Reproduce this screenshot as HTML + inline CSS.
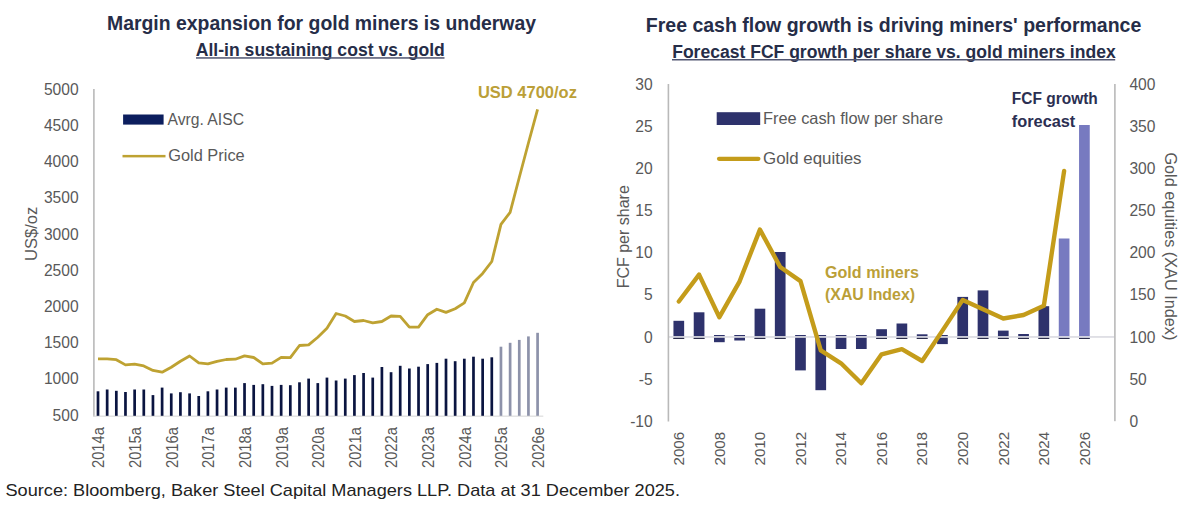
<!DOCTYPE html>
<html><head><meta charset="utf-8"><title>Gold miners charts</title>
<style>
html,body{margin:0;padding:0;background:#fff;}
body{width:1200px;height:507px;overflow:hidden;}
svg{display:block;font-family:'Liberation Sans', Arial, sans-serif;}
</style></head><body>
<svg width="1200" height="507" viewBox="0 0 1200 507">
<rect width="1200" height="507" fill="#fff"/>
<text x="107.0" y="29.7" font-size="20.4" fill="#262d48" font-weight="bold" textLength="429" lengthAdjust="spacingAndGlyphs">Margin expansion for gold miners is underway</text>
<text x="195.8" y="55.8" font-size="18.3" fill="#262d48" font-weight="bold" textLength="249" lengthAdjust="spacingAndGlyphs">All-in sustaining cost vs. gold</text>
<rect x="196.0" y="57.2" width="248.5" height="1.5" fill="#505570"/>
<text x="645.8" y="31.7" font-size="20.6" fill="#262d48" font-weight="bold" textLength="495.5" lengthAdjust="spacingAndGlyphs">Free cash flow growth is driving miners&#39; performance</text>
<text x="672.2" y="57.8" font-size="18.3" fill="#262d48" font-weight="bold" textLength="443.5" lengthAdjust="spacingAndGlyphs">Forecast FCF growth per share vs. gold miners index</text>
<rect x="672.0" y="59.0" width="443.2" height="1.5" fill="#505570"/>
<text x="78.6" y="94.8" font-size="15.6" fill="#595959" text-anchor="end">5000</text>
<text x="78.6" y="131.0" font-size="15.6" fill="#595959" text-anchor="end">4500</text>
<text x="78.6" y="167.2" font-size="15.6" fill="#595959" text-anchor="end">4000</text>
<text x="78.6" y="203.4" font-size="15.6" fill="#595959" text-anchor="end">3500</text>
<text x="78.6" y="239.6" font-size="15.6" fill="#595959" text-anchor="end">3000</text>
<text x="78.6" y="275.8" font-size="15.6" fill="#595959" text-anchor="end">2500</text>
<text x="78.6" y="312.0" font-size="15.6" fill="#595959" text-anchor="end">2000</text>
<text x="78.6" y="348.2" font-size="15.6" fill="#595959" text-anchor="end">1500</text>
<text x="78.6" y="384.4" font-size="15.6" fill="#595959" text-anchor="end">1000</text>
<text x="78.6" y="420.6" font-size="15.6" fill="#595959" text-anchor="end">500</text>
<text transform="translate(36.8,233.9) rotate(-90)" font-size="16" fill="#595959" text-anchor="middle" textLength="54.3" lengthAdjust="spacingAndGlyphs">US$/oz</text>
<rect x="93.1" y="89" width="1.6" height="327.5" fill="#b9b9b9"/>
<rect x="93.3" y="415.6" width="450" height="1.1" fill="#d9d9d9"/>
<rect x="96.65" y="391.3" width="2.7" height="24.50" fill="#0a1440"/>
<rect x="105.81" y="389.5" width="2.7" height="26.30" fill="#0a1440"/>
<rect x="114.97" y="390.8" width="2.7" height="25.00" fill="#0a1440"/>
<rect x="124.12" y="392.0" width="2.7" height="23.80" fill="#0a1440"/>
<rect x="133.28" y="389.5" width="2.7" height="26.30" fill="#0a1440"/>
<rect x="142.44" y="389.5" width="2.7" height="26.30" fill="#0a1440"/>
<rect x="151.60" y="395.1" width="2.7" height="20.70" fill="#0a1440"/>
<rect x="160.76" y="387.6" width="2.7" height="28.20" fill="#0a1440"/>
<rect x="169.91" y="393.4" width="2.7" height="22.40" fill="#0a1440"/>
<rect x="179.07" y="392.2" width="2.7" height="23.60" fill="#0a1440"/>
<rect x="188.23" y="393.4" width="2.7" height="22.40" fill="#0a1440"/>
<rect x="197.39" y="396.0" width="2.7" height="19.80" fill="#0a1440"/>
<rect x="206.55" y="391.3" width="2.7" height="24.50" fill="#0a1440"/>
<rect x="215.70" y="389.5" width="2.7" height="26.30" fill="#0a1440"/>
<rect x="224.86" y="387.6" width="2.7" height="28.20" fill="#0a1440"/>
<rect x="234.02" y="387.6" width="2.7" height="28.20" fill="#0a1440"/>
<rect x="243.18" y="383.1" width="2.7" height="32.70" fill="#0a1440"/>
<rect x="252.34" y="384.9" width="2.7" height="30.90" fill="#0a1440"/>
<rect x="261.49" y="384.2" width="2.7" height="31.60" fill="#0a1440"/>
<rect x="270.65" y="385.9" width="2.7" height="29.90" fill="#0a1440"/>
<rect x="279.81" y="384.9" width="2.7" height="30.90" fill="#0a1440"/>
<rect x="288.97" y="385.2" width="2.7" height="30.60" fill="#0a1440"/>
<rect x="298.13" y="382.3" width="2.7" height="33.50" fill="#0a1440"/>
<rect x="307.28" y="378.6" width="2.7" height="37.20" fill="#0a1440"/>
<rect x="316.44" y="383.1" width="2.7" height="32.70" fill="#0a1440"/>
<rect x="325.60" y="377.6" width="2.7" height="38.20" fill="#0a1440"/>
<rect x="334.76" y="380.5" width="2.7" height="35.30" fill="#0a1440"/>
<rect x="343.92" y="378.6" width="2.7" height="37.20" fill="#0a1440"/>
<rect x="353.07" y="375.1" width="2.7" height="40.70" fill="#0a1440"/>
<rect x="362.23" y="373.0" width="2.7" height="42.80" fill="#0a1440"/>
<rect x="371.39" y="377.6" width="2.7" height="38.20" fill="#0a1440"/>
<rect x="380.55" y="367.0" width="2.7" height="48.80" fill="#0a1440"/>
<rect x="389.71" y="372.2" width="2.7" height="43.60" fill="#0a1440"/>
<rect x="398.86" y="365.8" width="2.7" height="50.00" fill="#0a1440"/>
<rect x="408.02" y="368.5" width="2.7" height="47.30" fill="#0a1440"/>
<rect x="417.18" y="366.7" width="2.7" height="49.10" fill="#0a1440"/>
<rect x="426.34" y="364.1" width="2.7" height="51.70" fill="#0a1440"/>
<rect x="435.50" y="362.9" width="2.7" height="52.90" fill="#0a1440"/>
<rect x="444.65" y="358.7" width="2.7" height="57.10" fill="#0a1440"/>
<rect x="453.81" y="361.2" width="2.7" height="54.60" fill="#0a1440"/>
<rect x="462.97" y="358.7" width="2.7" height="57.10" fill="#0a1440"/>
<rect x="472.13" y="356.7" width="2.7" height="59.10" fill="#0a1440"/>
<rect x="481.29" y="358.7" width="2.7" height="57.10" fill="#0a1440"/>
<rect x="490.44" y="357.3" width="2.7" height="58.50" fill="#0a1440"/>
<rect x="499.60" y="346.7" width="2.7" height="69.10" fill="#8d92aa"/>
<rect x="508.76" y="342.8" width="2.7" height="73.00" fill="#8d92aa"/>
<rect x="517.92" y="339.9" width="2.7" height="75.90" fill="#8d92aa"/>
<rect x="527.08" y="336.4" width="2.7" height="79.40" fill="#8d92aa"/>
<rect x="536.23" y="332.8" width="2.7" height="83.00" fill="#8d92aa"/>
<polyline points="98.00,358.8 107.16,358.8 116.32,359.7 125.47,364.9 134.63,364.2 143.79,365.9 152.95,370.4 162.11,372.2 171.26,367.2 180.42,361.3 189.58,356.0 198.74,362.8 207.90,363.8 217.05,361.3 226.21,359.5 235.37,359.2 244.53,355.9 253.69,357.5 262.84,363.8 272.00,363.1 281.16,357.4 290.32,357.7 299.48,345.5 308.63,344.9 317.79,337.2 326.95,328.2 336.11,313.5 345.27,316.0 354.42,321.5 363.58,320.5 372.74,322.8 381.90,321.5 391.06,316.0 400.21,316.3 409.37,327.1 418.53,327.1 427.69,314.7 436.85,309.2 446.00,312.4 455.16,308.7 464.32,302.9 473.48,282.5 482.64,273.4 491.79,261.5 500.95,224.4 510.11,212.3 519.27,177.5 528.43,143.0 537.58,109.3" fill="none" stroke="#bea232" stroke-width="2.8" stroke-linejoin="round"/>
<text transform="translate(104.35,427.2) rotate(-90)" font-size="15.8" fill="#595959" text-anchor="end" textLength="40.8" lengthAdjust="spacingAndGlyphs">2014a</text>
<text transform="translate(140.98,427.2) rotate(-90)" font-size="15.8" fill="#595959" text-anchor="end" textLength="40.8" lengthAdjust="spacingAndGlyphs">2015a</text>
<text transform="translate(177.61,427.2) rotate(-90)" font-size="15.8" fill="#595959" text-anchor="end" textLength="40.8" lengthAdjust="spacingAndGlyphs">2016a</text>
<text transform="translate(214.24,427.2) rotate(-90)" font-size="15.8" fill="#595959" text-anchor="end" textLength="40.8" lengthAdjust="spacingAndGlyphs">2017a</text>
<text transform="translate(250.87,427.2) rotate(-90)" font-size="15.8" fill="#595959" text-anchor="end" textLength="40.8" lengthAdjust="spacingAndGlyphs">2018a</text>
<text transform="translate(287.50,427.2) rotate(-90)" font-size="15.8" fill="#595959" text-anchor="end" textLength="40.8" lengthAdjust="spacingAndGlyphs">2019a</text>
<text transform="translate(324.13,427.2) rotate(-90)" font-size="15.8" fill="#595959" text-anchor="end" textLength="40.8" lengthAdjust="spacingAndGlyphs">2020a</text>
<text transform="translate(360.76,427.2) rotate(-90)" font-size="15.8" fill="#595959" text-anchor="end" textLength="40.8" lengthAdjust="spacingAndGlyphs">2021a</text>
<text transform="translate(397.39,427.2) rotate(-90)" font-size="15.8" fill="#595959" text-anchor="end" textLength="40.8" lengthAdjust="spacingAndGlyphs">2022a</text>
<text transform="translate(434.02,427.2) rotate(-90)" font-size="15.8" fill="#595959" text-anchor="end" textLength="40.8" lengthAdjust="spacingAndGlyphs">2023a</text>
<text transform="translate(470.65,427.2) rotate(-90)" font-size="15.8" fill="#595959" text-anchor="end" textLength="40.8" lengthAdjust="spacingAndGlyphs">2024a</text>
<text transform="translate(507.28,427.2) rotate(-90)" font-size="15.8" fill="#595959" text-anchor="end" textLength="40.8" lengthAdjust="spacingAndGlyphs">2025a</text>
<text transform="translate(543.91,427.2) rotate(-90)" font-size="15.8" fill="#595959" text-anchor="end" textLength="40.8" lengthAdjust="spacingAndGlyphs">2026e</text>
<rect x="123.1" y="114.5" width="40.5" height="10.1" fill="#0c1e5e"/>
<text x="167.5" y="124.5" font-size="16.9" fill="#595959" textLength="76.5" lengthAdjust="spacingAndGlyphs">Avrg. AISC</text>
<rect x="122.5" y="154.9" width="43" height="2.5" fill="#bea232"/>
<text x="168.2" y="160.8" font-size="16.9" fill="#595959" textLength="76.5" lengthAdjust="spacingAndGlyphs">Gold Price</text>
<text x="477.9" y="97.6" font-size="16.5" fill="#bb9f38" font-weight="bold" textLength="99" lengthAdjust="spacingAndGlyphs">USD 4700/oz</text>
<text x="652.7" y="89.5" font-size="15.6" fill="#595959" text-anchor="end">30</text>
<text x="652.7" y="131.67" font-size="15.6" fill="#595959" text-anchor="end">25</text>
<text x="652.7" y="173.84" font-size="15.6" fill="#595959" text-anchor="end">20</text>
<text x="652.7" y="216.01" font-size="15.6" fill="#595959" text-anchor="end">15</text>
<text x="652.7" y="258.18" font-size="15.6" fill="#595959" text-anchor="end">10</text>
<text x="652.7" y="300.35" font-size="15.6" fill="#595959" text-anchor="end">5</text>
<text x="652.7" y="342.52" font-size="15.6" fill="#595959" text-anchor="end">0</text>
<text x="652.7" y="384.69" font-size="15.6" fill="#595959" text-anchor="end">-5</text>
<text x="652.7" y="426.86" font-size="15.6" fill="#595959" text-anchor="end">-10</text>
<text x="1129.4" y="89.5" font-size="15.6" fill="#595959">400</text>
<text x="1129.4" y="131.67" font-size="15.6" fill="#595959">350</text>
<text x="1129.4" y="173.84" font-size="15.6" fill="#595959">300</text>
<text x="1129.4" y="216.01" font-size="15.6" fill="#595959">250</text>
<text x="1129.4" y="258.18" font-size="15.6" fill="#595959">200</text>
<text x="1129.4" y="300.35" font-size="15.6" fill="#595959">150</text>
<text x="1129.4" y="342.52" font-size="15.6" fill="#595959">100</text>
<text x="1129.4" y="384.69" font-size="15.6" fill="#595959">50</text>
<text x="1129.4" y="426.86" font-size="15.6" fill="#595959">0</text>
<text transform="translate(629.2,236.8) rotate(-90)" font-size="16" fill="#595959" text-anchor="middle">FCF per share</text>
<text transform="translate(1164.5,246.4) rotate(90)" font-size="16" fill="#595959" text-anchor="middle" textLength="188" lengthAdjust="spacingAndGlyphs">Gold equities (XAU Index)</text>
<rect x="673.45" y="320.8" width="10.7" height="18.10" fill="#2e326c"/>
<rect x="673.45" y="337.8" width="10.7" height="1.2" fill="#2b2d4a"/>
<rect x="693.73" y="312.3" width="10.7" height="26.60" fill="#2e326c"/>
<rect x="693.73" y="337.8" width="10.7" height="1.2" fill="#2b2d4a"/>
<rect x="714.01" y="335.0" width="10.7" height="7.20" fill="#2e326c"/>
<rect x="734.29" y="335.0" width="10.7" height="5.50" fill="#2e326c"/>
<rect x="754.57" y="308.7" width="10.7" height="30.20" fill="#2e326c"/>
<rect x="754.57" y="337.8" width="10.7" height="1.2" fill="#2b2d4a"/>
<rect x="774.85" y="252.0" width="10.7" height="86.90" fill="#2e326c"/>
<rect x="774.85" y="337.8" width="10.7" height="1.2" fill="#2b2d4a"/>
<rect x="795.13" y="335.0" width="10.7" height="35.40" fill="#2e326c"/>
<rect x="815.41" y="335.0" width="10.7" height="55.20" fill="#2e326c"/>
<rect x="835.69" y="335.0" width="10.7" height="14.00" fill="#2e326c"/>
<rect x="855.97" y="335.0" width="10.7" height="14.00" fill="#2e326c"/>
<rect x="876.25" y="329.2" width="10.7" height="9.70" fill="#2e326c"/>
<rect x="876.25" y="337.8" width="10.7" height="1.2" fill="#2b2d4a"/>
<rect x="896.53" y="323.5" width="10.7" height="15.40" fill="#2e326c"/>
<rect x="896.53" y="337.8" width="10.7" height="1.2" fill="#2b2d4a"/>
<rect x="916.81" y="334.3" width="10.7" height="4.60" fill="#2e326c"/>
<rect x="916.81" y="337.8" width="10.7" height="1.2" fill="#2b2d4a"/>
<rect x="937.09" y="335.0" width="10.7" height="9.10" fill="#2e326c"/>
<rect x="957.37" y="296.9" width="10.7" height="42.00" fill="#2e326c"/>
<rect x="957.37" y="337.8" width="10.7" height="1.2" fill="#2b2d4a"/>
<rect x="977.65" y="290.4" width="10.7" height="48.50" fill="#2e326c"/>
<rect x="977.65" y="337.8" width="10.7" height="1.2" fill="#2b2d4a"/>
<rect x="997.93" y="330.6" width="10.7" height="8.30" fill="#2e326c"/>
<rect x="997.93" y="337.8" width="10.7" height="1.2" fill="#2b2d4a"/>
<rect x="1018.21" y="334.0" width="10.7" height="4.90" fill="#2e326c"/>
<rect x="1018.21" y="337.8" width="10.7" height="1.2" fill="#2b2d4a"/>
<rect x="1038.49" y="306.2" width="10.7" height="32.70" fill="#2e326c"/>
<rect x="1038.49" y="337.8" width="10.7" height="1.2" fill="#2b2d4a"/>
<rect x="1058.77" y="238.5" width="10.7" height="100.40" fill="#777ac0"/>
<rect x="1058.77" y="337.8" width="10.7" height="1.2" fill="#2b2d4a"/>
<rect x="1079.05" y="125.0" width="10.7" height="213.90" fill="#777ac0"/>
<rect x="1079.05" y="337.8" width="10.7" height="1.2" fill="#2b2d4a"/>
<rect x="668.5" y="336.1" width="446" height="1.7" fill="#dcdce3"/>
<rect x="667.6" y="84" width="1.6" height="337.5" fill="#b9b9b9"/>
<rect x="1114.1" y="84" width="1.6" height="337.2" fill="#b9b9b9"/>
<polyline points="678.80,301.5 699.08,274.6 719.36,317.2 739.64,281.3 759.92,229.6 780.20,267.0 800.48,281.1 820.76,350.4 841.04,363.3 861.32,383.3 881.60,354.3 901.88,349.1 922.16,361.0 942.44,330.6 962.72,299.9 983.00,309.2 1003.28,318.5 1023.56,315.0 1043.84,305.8 1064.12,171.0" fill="none" stroke="#c49c1a" stroke-width="4.4" stroke-linejoin="round" stroke-linecap="round"/>
<text transform="translate(684.20,431.9) rotate(-90)" font-size="15.5" fill="#595959" text-anchor="end" textLength="33.6" lengthAdjust="spacingAndGlyphs">2006</text>
<text transform="translate(724.74,431.9) rotate(-90)" font-size="15.5" fill="#595959" text-anchor="end" textLength="33.6" lengthAdjust="spacingAndGlyphs">2008</text>
<text transform="translate(765.28,431.9) rotate(-90)" font-size="15.5" fill="#595959" text-anchor="end" textLength="33.6" lengthAdjust="spacingAndGlyphs">2010</text>
<text transform="translate(805.82,431.9) rotate(-90)" font-size="15.5" fill="#595959" text-anchor="end" textLength="33.6" lengthAdjust="spacingAndGlyphs">2012</text>
<text transform="translate(846.36,431.9) rotate(-90)" font-size="15.5" fill="#595959" text-anchor="end" textLength="33.6" lengthAdjust="spacingAndGlyphs">2014</text>
<text transform="translate(886.90,431.9) rotate(-90)" font-size="15.5" fill="#595959" text-anchor="end" textLength="33.6" lengthAdjust="spacingAndGlyphs">2016</text>
<text transform="translate(927.44,431.9) rotate(-90)" font-size="15.5" fill="#595959" text-anchor="end" textLength="33.6" lengthAdjust="spacingAndGlyphs">2018</text>
<text transform="translate(967.98,431.9) rotate(-90)" font-size="15.5" fill="#595959" text-anchor="end" textLength="33.6" lengthAdjust="spacingAndGlyphs">2020</text>
<text transform="translate(1008.52,431.9) rotate(-90)" font-size="15.5" fill="#595959" text-anchor="end" textLength="33.6" lengthAdjust="spacingAndGlyphs">2022</text>
<text transform="translate(1049.06,431.9) rotate(-90)" font-size="15.5" fill="#595959" text-anchor="end" textLength="33.6" lengthAdjust="spacingAndGlyphs">2024</text>
<text transform="translate(1089.60,431.9) rotate(-90)" font-size="15.5" fill="#595959" text-anchor="end" textLength="33.6" lengthAdjust="spacingAndGlyphs">2026</text>
<rect x="716.7" y="112.2" width="43.5" height="12.8" fill="#2e326c"/>
<text x="763.0" y="123.8" font-size="16.5" fill="#595959" textLength="180" lengthAdjust="spacingAndGlyphs">Free cash flow per share</text>
<line x1="719" y1="158.8" x2="758.4" y2="158.8" stroke="#c49c1a" stroke-width="4.2" stroke-linecap="round"/>
<text x="763.0" y="163.9" font-size="16.5" fill="#595959" textLength="98.5" lengthAdjust="spacingAndGlyphs">Gold equities</text>
<text x="1011.8" y="103.8" font-size="16" fill="#2b2f52" font-weight="bold" textLength="86" lengthAdjust="spacingAndGlyphs">FCF growth</text>
<text x="1011.8" y="126.6" font-size="16" fill="#2b2f52" font-weight="bold" textLength="63.5" lengthAdjust="spacingAndGlyphs">forecast</text>
<text x="825.0" y="277.6" font-size="16" fill="#bb9f38" font-weight="bold" textLength="94" lengthAdjust="spacingAndGlyphs">Gold miners</text>
<text x="825.0" y="300.4" font-size="16" fill="#bb9f38" font-weight="bold" textLength="90" lengthAdjust="spacingAndGlyphs">(XAU Index)</text>
<text x="5.5" y="496.2" font-size="17" fill="#222222" textLength="674.5" lengthAdjust="spacingAndGlyphs">Source: Bloomberg, Baker Steel Capital Managers LLP. Data at 31 December 2025.</text>
</svg>
</body></html>
